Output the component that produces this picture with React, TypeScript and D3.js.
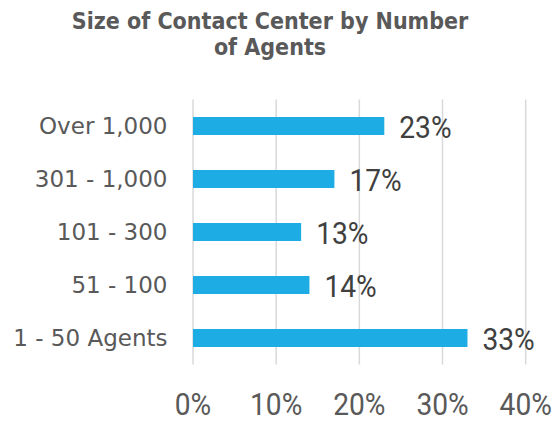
import React from "react";
import * as d3 from "d3";

const categories = ["Over 1,000", "301 - 1,000", "101 - 300", "51 - 100", "1 - 50 Agents"];
const values = [23, 17, 13, 14, 33];
const tickValues = [0, 10, 20, 30, 40];
const titleLines = ["Size of Contact Center by Number", "of Agents"];

const W = 556;
const H = 422;
const SX = 0.88;

export default function App() {
  const x = d3.scaleLinear().domain([0, 40]).range([193, 525.7]);
  const y = d3
    .scaleBand<string>()
    .domain(categories)
    .range([99.5, 364.5])
    .paddingInner(0.66)
    .paddingOuter(0.33);
  const bw = y.bandwidth();
  const fmt = (v: number) => `${v}%`;
  const numFont = "Roboto, 'Open Sans', sans-serif";

  return (
    <svg
      width={W}
      height={H}
      viewBox={`0 0 ${W} ${H}`}
      style={{ position: "absolute", left: 0, top: 0, background: "#fff" }}
    >
      <rect x={0} y={0} width={W} height={H} fill="#fff" />
      {titleLines.map((t, i) => (
        <text
          key={t}
          x={270}
          y={29 + i * 26}
          textAnchor="middle"
          fill="#595959"
          fontFamily="'DejaVu Sans', sans-serif"
          fontWeight="bold"
          fontSize={23}
          style={{ fontStretch: "condensed" }}
        >
          {t}
        </text>
      ))}
      {tickValues.map((t) => (
        <line
          key={"g" + t}
          x1={x(t)}
          x2={x(t)}
          y1={99.5}
          y2={364.5}
          stroke="#D9D9D9"
          strokeWidth={1.5}
        />
      ))}
      {categories.map((c, i) => {
        const yy = y(c)!;
        return (
          <g key={c}>
            <rect
              x={x(0)}
              y={yy}
              width={x(values[i]) - x(0)}
              height={bw}
              fill="#1DADE4"
            />
            <text
              x={167.5}
              y={yy + bw / 2 + 8.2}
              textAnchor="end"
              fill="#595959"
              fontFamily="'DejaVu Sans', sans-serif"
              fontSize={23}
            >
              {c}
            </text>
            <text
              transform={`translate(${x(values[i]) + 15},${yy + bw / 2 + 11.5}) scale(${SX},1)`}
              fill="#404040"
              fontFamily={numFont}
              fontSize={32}
            >
              {fmt(values[i])}
            </text>
          </g>
        );
      })}
      {tickValues.map((t) => (
        <text
          key={"t" + t}
          transform={`translate(${x(t)},415) scale(${SX},1)`}
          textAnchor="middle"
          fill="#595959"
          fontFamily={numFont}
          fontSize={32}
        >
          {fmt(t)}
        </text>
      ))}
    </svg>
  );
}
